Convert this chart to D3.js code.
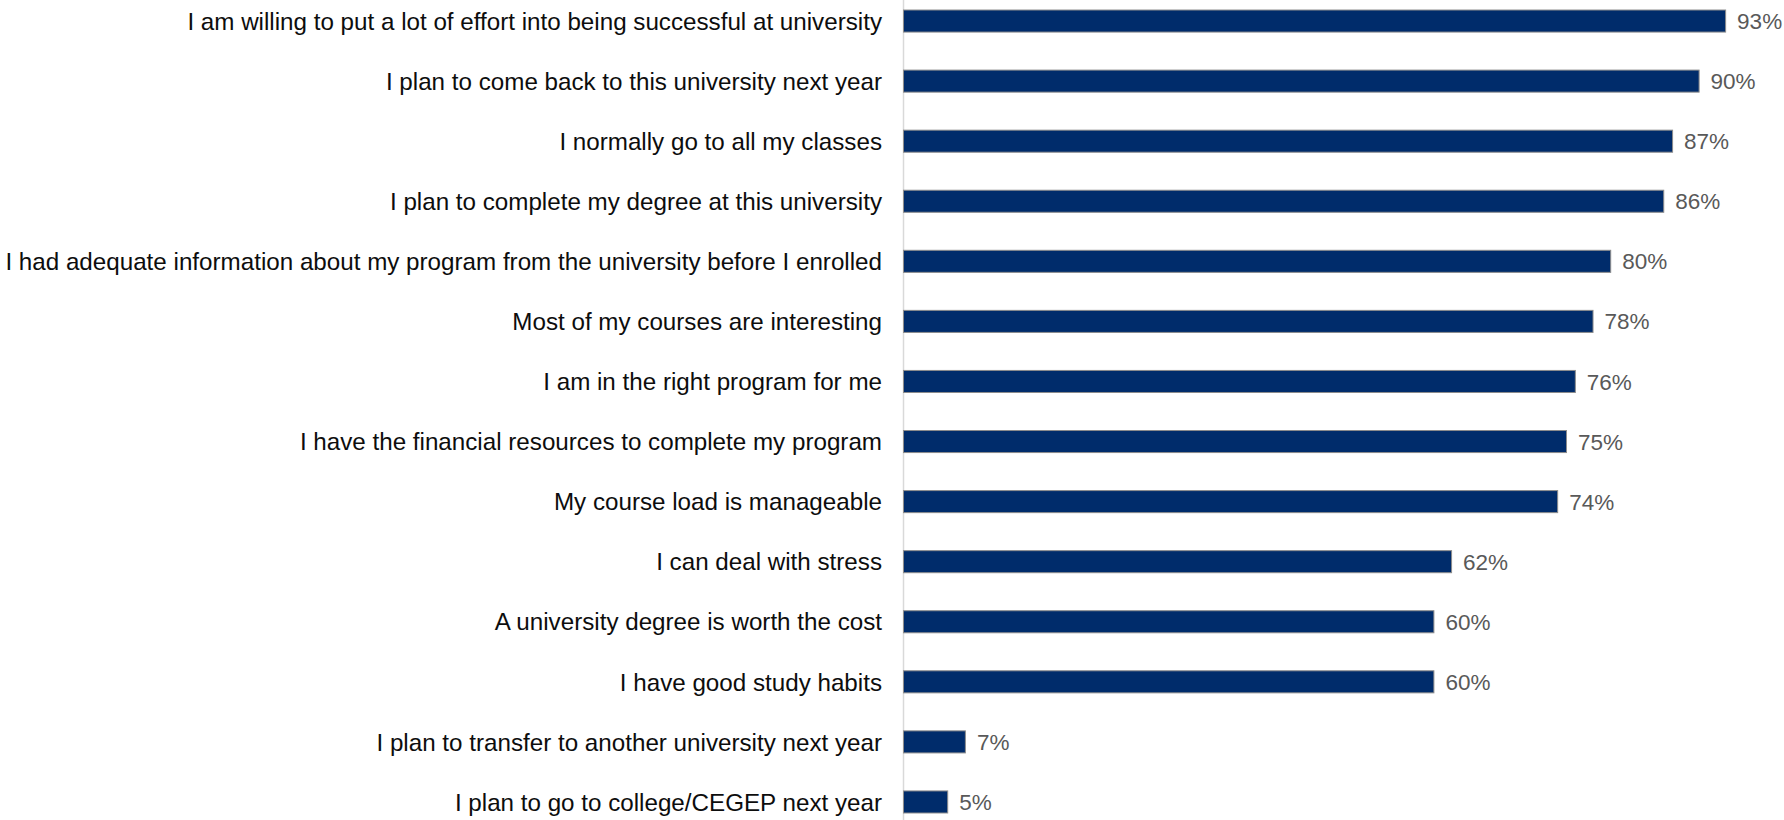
<!DOCTYPE html>
<html>
<head>
<meta charset="utf-8">
<script src="https://cdn.jsdelivr.net/npm/d3@7"></script>
<style>
  html, body { margin: 0; padding: 0; background: #fff; }
  svg { display: block; }
</style>
</head>
<body>
<svg id="chart" width="1784" height="820"></svg>
<script>
// Statements and share of students who agree (%)
const statements = [
  "I am willing to put a lot of effort into being successful at university",
  "I plan to come back to this university next year",
  "I normally go to all my classes",
  "I plan to complete my degree at this university",
  "I had adequate information about my program from the university before I enrolled",
  "Most of my courses are interesting",
  "I am in the right program for me",
  "I have the financial resources to complete my program",
  "My course load is manageable",
  "I can deal with stress",
  "A university degree is worth the cost",
  "I have good study habits",
  "I plan to transfer to another university next year",
  "I plan to go to college/CEGEP next year"
];
const agreePct = [93, 90, 87, 86, 80, 78, 76, 75, 74, 62, 60, 60, 7, 5];

const width = 1784, height = 820;
const axisX = 903;
const svg = d3.select("#chart");

const x = d3.scaleLinear().domain([0, 100]).range([axisX, axisX + 884]);
const y = d3.scaleBand().domain(statements).range([-9, 832]).paddingInner(0.633).paddingOuter(0.3165);

const rows = statements.map((s, i) => ({ s, v: agreePct[i] }));

// vertical category axis line
svg.append("line")
  .attr("x1", axisX + 0.5).attr("x2", axisX + 0.5)
  .attr("y1", 0).attr("y2", height)
  .attr("stroke", "#d9d9d9").attr("stroke-width", 1.5);

svg.selectAll("rect.bar").data(rows).join("rect")
  .attr("class", "bar")
  .attr("x", x(0) + 0.5)
  .attr("y", d => y(d.s))
  .attr("width", d => x(d.v) - x(0))
  .attr("height", y.bandwidth())
  .attr("fill", "#002c6b")
  .attr("stroke", "#8c8c8c")
  .attr("stroke-width", 1);

svg.selectAll("text.cat").data(rows).join("text")
  .attr("class", "cat")
  .attr("x", axisX - 21)
  .attr("y", d => y(d.s) + y.bandwidth() / 2)
  .attr("dy", "0.36em")
  .attr("text-anchor", "end")
  .attr("font-family", "'Liberation Sans', Arial, sans-serif")
  .attr("font-size", 24.2)
  .attr("fill", "#0d0d0d")
  .text(d => d.s);

svg.selectAll("text.val").data(rows).join("text")
  .attr("class", "val")
  .attr("x", d => x(d.v) + 12)
  .attr("y", d => y(d.s) + y.bandwidth() / 2)
  .attr("dy", "0.36em")
  .attr("font-family", "'Liberation Sans', Arial, sans-serif")
  .attr("font-size", 22.5)
  .attr("fill", "#595959")
  .text(d => d.v + "%");
</script>
</body>
</html>
